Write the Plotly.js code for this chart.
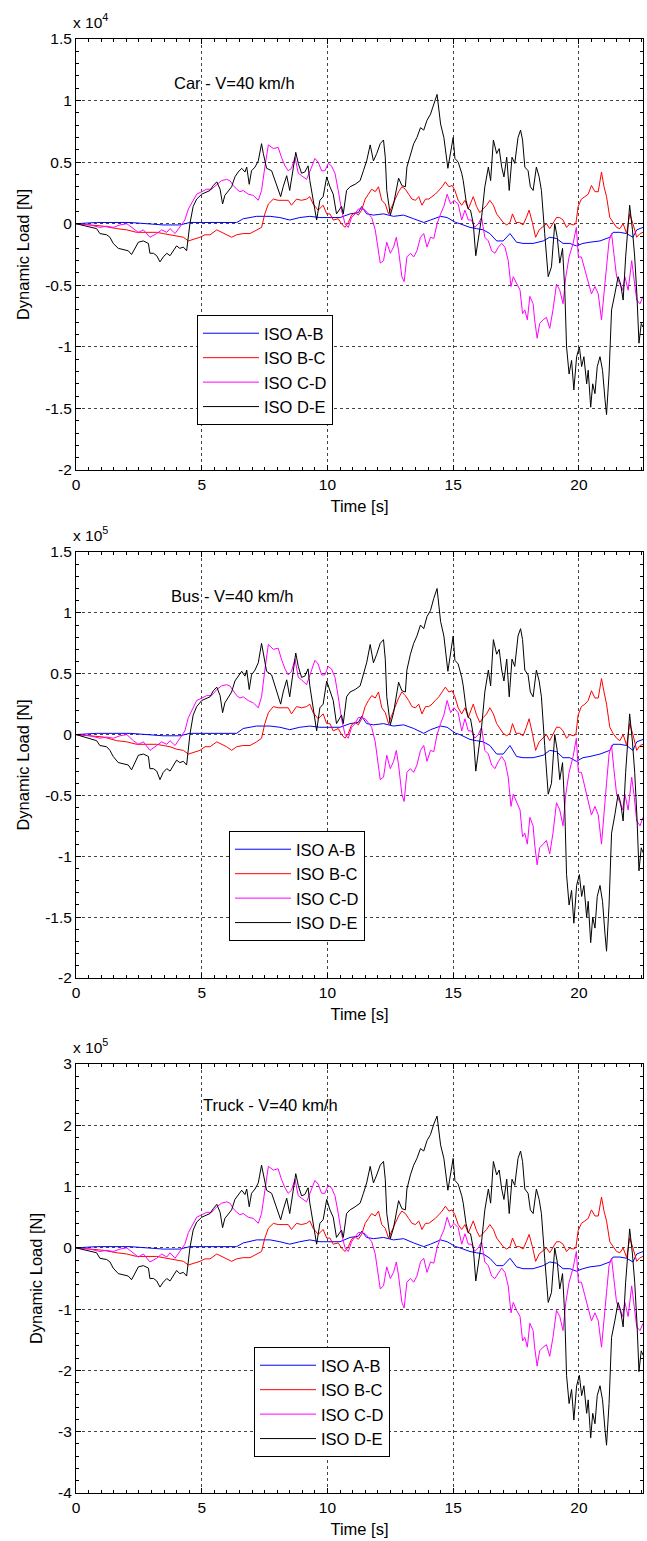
<!DOCTYPE html>
<html>
<head>
<meta charset="utf-8">
<script src="https://cdn.plot.ly/plotly-3.0.1.min.js"></script>
<style>html,body{margin:0;padding:0;background:#fff;}#chart{width:647px;height:1541px;}</style>
</head>
<body>
<div id="chart"></div>
<script>
// ---------------- DATA ----------------
const vehicleLabels = ['Car - V=40 km/h', 'Bus - V=40 km/h', 'Truck - V=40 km/h'];
const exponentLabels = ['x 10<sup>4</sup>', 'x 10<sup>5</sup>', 'x 10<sup>5</sup>'];
const seriesNames = ['ISO A-B', 'ISO B-C', 'ISO C-D', 'ISO D-E'];
const xAxisTitle = 'Time [s]';
const yAxisTitle = 'Dynamic Load [N]';
const xTickVals = [0, 5, 10, 15, 20];
const xTickText = ['0', '5', '10', '15', '20'];
const yTickValsCarBus = [-2, -1.5, -1, -0.5, 0, 0.5, 1, 1.5];
const yTickTextCarBus = ['-2', '-1.5', '-1', '-0.5', '0', '0.5', '1', '1.5'];
const yTickValsTruck = [-4, -3, -2, -1, 0, 1, 2, 3];
const yTickTextTruck = ['-4', '-3', '-2', '-1', '0', '1', '2', '3'];

// time stamps [s]
const tAB = [0,0.82,2.15,2.81,3.47,4.13,4.53,5.06,5.60,6.12,
  6.39,6.65,6.92,7.18,7.52,7.72,8.11,8.50,8.90,9.30,
  9.70,10.10,10.50,10.90,11.23,11.36,11.56,11.83,12.23,12.63,
  13.03,13.43,13.83,14.10,14.50,14.76,15.10,15.27,15.67,15.93,
  16.20,16.46,16.73,16.99,17.26,17.52,17.78,18.18,18.58,18.84,
  19.11,19.37,19.64,19.90,20.16,20.44,20.84,21.23,21.36,21.63,
  21.90,22.15,22.30,22.55];
const tBC = [0,0.56,1.09,1.62,2.02,2.41,2.81,3.21,3.47,3.74,
  4.00,4.27,4.47,4.66,4.93,5.13,5.33,5.60,5.79,5.99,
  6.19,6.39,6.65,6.92,7.18,7.38,7.51,7.65,7.85,8.04,
  8.24,8.44,8.57,8.77,8.97,9.17,9.30,9.43,9.63,9.83,
  9.97,10.10,10.23,10.43,10.56,10.70,10.83,10.96,11.10,11.23,
  11.36,11.50,11.63,11.76,11.90,12.03,12.16,12.30,12.43,12.56,
  12.70,12.83,12.96,13.10,13.23,13.36,13.50,13.63,13.76,13.90,
  14.03,14.16,14.29,14.43,14.56,14.69,14.83,14.96,15.07,15.20,
  15.34,15.47,15.60,15.80,15.93,16.06,16.20,16.33,16.46,16.60,
  16.73,16.86,16.99,17.13,17.26,17.36,17.50,17.65,17.78,17.91,
  18.02,18.15,18.28,18.42,18.55,18.71,18.84,18.97,19.11,19.24,
  19.37,19.51,19.64,19.77,19.88,19.97,20.10,20.24,20.37,20.50,
  20.64,20.77,20.90,21.00,21.10,21.23,21.36,21.50,21.63,21.76,
  21.90,22.02,22.15,22.30,22.43,22.55];
const tCD = [0,0.56,0.95,1.22,1.48,1.75,2.02,2.28,2.48,2.68,
  2.94,3.21,3.41,3.61,3.74,3.94,4.13,4.33,4.47,4.66,
  4.80,5.00,5.20,5.39,5.60,5.79,5.99,6.12,6.26,6.39,
  6.52,6.65,6.85,7.05,7.25,7.38,7.51,7.65,7.85,8.04,
  8.17,8.31,8.44,8.57,8.71,8.84,8.97,9.17,9.37,9.50,
  9.63,9.77,9.90,10.03,10.16,10.30,10.43,10.56,10.70,10.83,
  10.96,11.10,11.23,11.36,11.50,11.63,11.76,11.90,12.00,12.10,
  12.23,12.36,12.50,12.63,12.74,12.83,12.96,13.05,13.16,13.30,
  13.43,13.56,13.70,13.83,13.96,14.10,14.23,14.36,14.50,14.63,
  14.76,14.90,15.03,15.20,15.34,15.47,15.60,15.73,15.86,16.00,
  16.13,16.26,16.40,16.53,16.66,16.80,16.93,17.06,17.19,17.30,
  17.39,17.52,17.66,17.76,17.85,17.95,18.05,18.18,18.24,18.34,
  18.44,18.58,18.71,18.84,18.97,19.11,19.24,19.37,19.48,19.61,
  19.77,19.90,19.98,20.10,20.24,20.37,20.50,20.64,20.77,20.90,
  21.00,21.10,21.20,21.30,21.39,21.50,21.63,21.74,21.83,21.96,
  22.10,22.19,22.30,22.43,22.55];
const tDE = [0,0.56,0.82,0.95,1.22,1.35,1.48,1.68,1.88,2.08,
  2.21,2.35,2.48,2.68,2.88,2.94,3.08,3.21,3.34,3.47,
  3.61,3.74,3.87,4.00,4.13,4.27,4.40,4.47,4.53,4.66,
  4.80,5.00,5.20,5.33,5.46,5.60,5.73,5.83,5.92,6.06,
  6.19,6.32,6.45,6.59,6.72,6.79,6.89,6.98,7.12,7.25,
  7.38,7.45,7.58,7.78,7.91,8.04,8.14,8.24,8.38,8.50,
  8.64,8.74,8.84,8.97,9.10,9.23,9.30,9.43,9.57,9.70,
  9.83,9.97,10.10,10.23,10.36,10.56,10.63,10.76,10.90,11.10,
  11.30,11.43,11.56,11.70,11.83,11.96,12.10,12.23,12.30,12.36,
  12.50,12.63,12.83,12.96,13.10,13.16,13.30,13.43,13.56,13.70,
  13.83,13.96,14.10,14.23,14.36,14.50,14.63,14.79,14.90,15.00,
  15.07,15.20,15.34,15.40,15.51,15.60,15.69,15.80,15.90,16.00,
  16.13,16.26,16.40,16.49,16.60,16.73,16.83,16.93,17.02,17.13,
  17.23,17.34,17.45,17.58,17.68,17.76,17.85,17.98,18.07,18.18,
  18.31,18.42,18.51,18.64,18.78,18.91,19.04,19.14,19.24,19.35,
  19.44,19.51,19.61,19.71,19.80,19.91,20.02,20.11,20.20,20.31,
  20.37,20.47,20.55,20.64,20.73,20.84,20.94,21.04,21.10,21.20,
  21.30,21.43,21.56,21.66,21.76,21.86,21.95,22.02,22.13,22.22,
  22.31,22.39,22.48,22.55];

// Car (values in units of 1e4 N)
const carAB = [0,0.01,0.01,0.00,-0.01,-0.01,0.01,0.01,0.01,0.01,
  0.01,0.04,0.05,0.06,0.06,0.06,0.05,0.03,0.05,0.06,
  0.05,0.05,0.05,0.08,0.09,0.14,0.08,0.07,0.08,0.06,
  0.07,0.04,0.01,0.03,0.06,0.05,0.01,0.00,-0.03,-0.04,
  -0.05,-0.08,-0.14,-0.14,-0.08,-0.15,-0.16,-0.16,-0.14,-0.11,
  -0.12,-0.16,-0.16,-0.18,-0.16,-0.15,-0.14,-0.11,-0.07,-0.07,
  -0.08,-0.11,-0.05,-0.03];
const carBC = [0,-0.01,-0.02,-0.04,-0.05,-0.07,-0.07,-0.07,-0.08,-0.09,
  -0.10,-0.11,-0.14,-0.13,-0.11,-0.09,-0.09,-0.05,-0.07,-0.09,
  -0.11,-0.09,-0.08,-0.08,-0.05,-0.03,0.08,0.16,0.20,0.19,
  0.19,0.19,0.15,0.20,0.19,0.20,0.22,0.16,0.11,0.15,
  0.08,0.08,0.03,0.04,0.00,-0.03,0.01,0.07,0.09,0.07,
  0.11,0.20,0.24,0.28,0.26,0.30,0.19,0.16,0.08,0.14,
  0.19,0.26,0.30,0.28,0.24,0.20,0.19,0.22,0.15,0.20,
  0.20,0.22,0.24,0.27,0.30,0.34,0.30,0.31,0.27,0.19,
  0.15,0.19,0.12,0.22,0.14,0.09,0.12,0.15,0.19,0.15,
  0.08,0.04,0.01,-0.01,0.01,0.08,0.01,0.01,-0.01,0.05,
  0.11,0.01,-0.11,-0.05,-0.03,0.00,-0.04,0.00,0.05,0.05,
  0.03,-0.03,0.00,-0.01,0.00,0.14,0.20,0.22,0.24,0.31,
  0.26,0.26,0.42,0.30,0.22,0.05,0.01,-0.03,-0.04,0.00,
  -0.08,0.08,0.00,-0.11,-0.08,-0.07];
const carCD = [0,-0.01,-0.03,-0.02,-0.03,-0.01,0.00,-0.04,-0.07,-0.05,
  -0.11,-0.08,-0.05,-0.07,-0.04,-0.08,-0.03,0.03,0.12,0.19,
  0.24,0.26,0.28,0.28,0.32,0.35,0.36,0.35,0.31,0.28,
  0.26,0.27,0.24,0.23,0.19,0.27,0.46,0.64,0.61,0.62,
  0.54,0.47,0.43,0.45,0.54,0.41,0.39,0.36,0.46,0.53,
  0.50,0.43,0.43,0.49,0.47,0.41,0.27,0.11,0.00,-0.03,
  0.05,0.08,0.12,0.12,0.11,0.08,0.05,-0.05,-0.19,-0.32,
  -0.30,-0.15,-0.24,-0.19,-0.11,-0.22,-0.43,-0.47,-0.27,-0.24,
  -0.27,-0.22,-0.11,-0.08,-0.19,-0.11,-0.12,0.00,0.08,0.14,
  0.24,0.16,0.19,0.16,0.03,0.11,0.03,0.03,-0.03,0.00,
  0.05,-0.11,-0.14,-0.22,-0.24,-0.19,-0.16,-0.19,-0.30,-0.51,
  -0.43,-0.49,-0.54,-0.73,-0.70,-0.78,-0.59,-0.65,-0.78,-0.93,
  -0.81,-0.78,-0.76,-0.85,-0.70,-0.49,-0.54,-0.65,-0.43,-0.27,
  -0.16,-0.03,-0.27,-0.27,-0.38,-0.49,-0.57,-0.51,-0.57,-0.78,
  -0.54,-0.35,-0.14,-0.08,-0.24,-0.43,-0.49,-0.54,-0.43,-0.54,
  -0.30,-0.43,-0.62,-0.65,-0.59];
const carDE = [0,-0.03,-0.04,-0.08,-0.09,-0.11,-0.16,-0.20,-0.21,-0.22,
  -0.25,-0.20,-0.15,-0.14,-0.16,-0.24,-0.24,-0.26,-0.31,-0.27,
  -0.24,-0.26,-0.22,-0.18,-0.20,-0.19,-0.22,-0.11,0.00,0.14,
  0.20,0.24,0.26,0.27,0.31,0.34,0.28,0.16,0.23,0.27,
  0.30,0.38,0.42,0.45,0.42,0.46,0.32,0.43,0.46,0.51,
  0.65,0.57,0.45,0.43,0.35,0.27,0.22,0.30,0.39,0.27,
  0.46,0.58,0.49,0.41,0.42,0.47,0.35,0.19,0.03,0.19,
  0.22,0.38,0.30,0.24,0.08,0.14,0.08,0.27,0.30,0.32,
  0.35,0.43,0.51,0.64,0.51,0.57,0.65,0.68,0.54,0.27,
  0.07,0.16,0.37,0.31,0.30,0.46,0.57,0.65,0.70,0.78,
  0.76,0.84,0.89,0.97,1.05,0.81,0.70,0.45,0.59,0.70,
  0.53,0.50,0.41,0.35,0.19,0.12,0.11,0.00,-0.26,-0.14,
  0.05,0.30,0.46,0.35,0.68,0.57,0.61,0.46,0.38,0.54,
  0.27,0.54,0.49,0.70,0.76,0.68,0.46,0.43,0.30,0.27,
  0.46,0.38,0.27,-0.08,-0.43,-0.35,0.00,-0.11,-0.32,-0.20,
  -0.54,-1.00,-1.22,-1.11,-1.35,-1.08,-1.00,-1.16,-1.08,-1.30,
  -1.19,-1.49,-1.30,-1.38,-1.16,-1.08,-1.19,-1.43,-1.55,-1.22,
  -0.70,-0.57,-0.43,-0.49,-0.62,-0.27,0.00,0.15,-0.05,-0.27,
  -0.59,-0.97,-0.81,-0.84];

// Bus (values in units of 1e5 N)
const busAB = [0,0.01,0.01,0.00,-0.01,-0.01,0.01,0.01,0.01,0.01,
  0.01,0.05,0.06,0.07,0.07,0.07,0.06,0.04,0.06,0.07,
  0.06,0.06,0.06,0.09,0.10,0.15,0.09,0.08,0.09,0.07,
  0.08,0.05,0.01,0.04,0.07,0.06,0.01,0.00,-0.04,-0.05,
  -0.06,-0.09,-0.16,-0.16,-0.09,-0.18,-0.19,-0.19,-0.17,-0.13,
  -0.14,-0.19,-0.19,-0.22,-0.19,-0.18,-0.16,-0.13,-0.08,-0.08,
  -0.09,-0.13,-0.06,-0.04];
const busBC = [0,-0.01,-0.02,-0.05,-0.06,-0.08,-0.08,-0.08,-0.09,-0.10,
  -0.12,-0.13,-0.16,-0.15,-0.13,-0.10,-0.10,-0.06,-0.08,-0.10,
  -0.13,-0.10,-0.09,-0.09,-0.06,-0.03,0.09,0.18,0.23,0.22,
  0.22,0.22,0.17,0.23,0.22,0.23,0.25,0.18,0.13,0.17,
  0.09,0.09,0.03,0.05,0.00,-0.03,0.01,0.08,0.10,0.08,
  0.13,0.23,0.28,0.32,0.30,0.35,0.22,0.18,0.09,0.16,
  0.22,0.30,0.35,0.32,0.28,0.23,0.22,0.25,0.17,0.23,
  0.23,0.25,0.28,0.31,0.35,0.39,0.35,0.36,0.31,0.22,
  0.17,0.22,0.14,0.25,0.16,0.10,0.14,0.17,0.22,0.17,
  0.09,0.05,0.01,-0.01,0.01,0.09,0.01,0.01,-0.01,0.06,
  0.13,0.01,-0.13,-0.06,-0.03,0.00,-0.05,0.00,0.06,0.06,
  0.03,-0.03,0.00,-0.01,0.00,0.16,0.23,0.25,0.28,0.36,
  0.30,0.30,0.46,0.35,0.25,0.06,0.01,-0.03,-0.05,0.00,
  -0.09,0.09,0.00,-0.13,-0.09,-0.08];
const busCD = [0,-0.01,-0.03,-0.02,-0.03,-0.01,0.00,-0.05,-0.08,-0.06,
  -0.13,-0.09,-0.06,-0.08,-0.05,-0.09,-0.03,0.03,0.14,0.22,
  0.28,0.30,0.32,0.32,0.37,0.40,0.41,0.40,0.36,0.32,
  0.30,0.31,0.28,0.26,0.22,0.31,0.53,0.74,0.70,0.71,
  0.62,0.54,0.49,0.52,0.62,0.47,0.45,0.41,0.53,0.61,
  0.58,0.49,0.49,0.56,0.54,0.47,0.31,0.13,0.00,-0.03,
  0.06,0.09,0.14,0.14,0.13,0.09,0.06,-0.06,-0.22,-0.37,
  -0.35,-0.17,-0.28,-0.22,-0.13,-0.25,-0.49,-0.55,-0.31,-0.28,
  -0.31,-0.25,-0.13,-0.09,-0.22,-0.13,-0.14,0.00,0.09,0.16,
  0.28,0.18,0.22,0.18,0.03,0.13,0.03,0.03,-0.03,0.00,
  0.06,-0.13,-0.16,-0.25,-0.28,-0.22,-0.18,-0.22,-0.35,-0.59,
  -0.49,-0.56,-0.62,-0.84,-0.81,-0.90,-0.68,-0.75,-0.90,-1.07,
  -0.93,-0.90,-0.87,-0.98,-0.81,-0.56,-0.62,-0.75,-0.49,-0.31,
  -0.18,-0.03,-0.31,-0.31,-0.44,-0.56,-0.66,-0.59,-0.66,-0.90,
  -0.62,-0.40,-0.16,-0.09,-0.28,-0.49,-0.56,-0.62,-0.49,-0.62,
  -0.35,-0.49,-0.71,-0.75,-0.68];
const busDE = [0,-0.03,-0.05,-0.09,-0.10,-0.13,-0.18,-0.23,-0.24,-0.25,
  -0.29,-0.23,-0.17,-0.16,-0.18,-0.28,-0.28,-0.30,-0.37,-0.31,
  -0.28,-0.30,-0.25,-0.21,-0.23,-0.22,-0.25,-0.13,0.00,0.16,
  0.23,0.28,0.30,0.31,0.36,0.39,0.32,0.18,0.26,0.31,
  0.35,0.44,0.48,0.52,0.48,0.53,0.37,0.49,0.53,0.59,
  0.75,0.66,0.52,0.49,0.40,0.31,0.25,0.35,0.45,0.31,
  0.53,0.67,0.56,0.47,0.48,0.54,0.40,0.22,0.03,0.22,
  0.25,0.44,0.35,0.28,0.09,0.16,0.09,0.31,0.35,0.37,
  0.40,0.49,0.59,0.74,0.59,0.66,0.75,0.78,0.62,0.31,
  0.08,0.18,0.43,0.36,0.35,0.53,0.66,0.75,0.81,0.90,
  0.87,0.97,1.02,1.12,1.20,0.93,0.81,0.52,0.68,0.81,
  0.61,0.58,0.47,0.40,0.22,0.14,0.13,0.00,-0.30,-0.16,
  0.06,0.35,0.53,0.40,0.78,0.66,0.70,0.53,0.44,0.62,
  0.31,0.62,0.56,0.81,0.87,0.78,0.53,0.49,0.35,0.31,
  0.53,0.44,0.31,-0.09,-0.49,-0.40,0.00,-0.13,-0.37,-0.23,
  -0.62,-1.15,-1.40,-1.28,-1.55,-1.24,-1.15,-1.33,-1.24,-1.50,
  -1.37,-1.71,-1.50,-1.59,-1.33,-1.24,-1.37,-1.64,-1.78,-1.40,
  -0.81,-0.66,-0.49,-0.56,-0.71,-0.31,0.00,0.17,-0.06,-0.31,
  -0.68,-1.12,-0.93,-0.97];

// Truck (values in units of 1e5 N)
const truckAB = [0,0.02,0.02,0.00,-0.02,-0.02,0.02,0.02,0.02,0.02,
  0.02,0.08,0.10,0.13,0.13,0.13,0.10,0.06,0.10,0.13,
  0.10,0.10,0.10,0.17,0.19,0.27,0.17,0.15,0.17,0.13,
  0.15,0.08,0.02,0.06,0.13,0.10,0.02,0.00,-0.06,-0.08,
  -0.10,-0.17,-0.29,-0.29,-0.17,-0.31,-0.34,-0.34,-0.29,-0.23,
  -0.25,-0.34,-0.34,-0.38,-0.34,-0.31,-0.29,-0.23,-0.15,-0.15,
  -0.17,-0.23,-0.10,-0.06];
const truckBC = [0,-0.02,-0.04,-0.08,-0.10,-0.14,-0.14,-0.14,-0.16,-0.18,
  -0.20,-0.22,-0.28,-0.26,-0.22,-0.18,-0.18,-0.10,-0.14,-0.18,
  -0.22,-0.18,-0.16,-0.16,-0.10,-0.06,0.16,0.32,0.40,0.38,
  0.38,0.38,0.30,0.40,0.38,0.40,0.44,0.32,0.22,0.30,
  0.16,0.16,0.06,0.08,0.00,-0.06,0.02,0.14,0.18,0.14,
  0.22,0.40,0.48,0.56,0.52,0.60,0.38,0.32,0.16,0.28,
  0.38,0.52,0.60,0.56,0.48,0.40,0.38,0.44,0.30,0.40,
  0.40,0.44,0.48,0.54,0.60,0.68,0.60,0.62,0.54,0.38,
  0.30,0.38,0.24,0.44,0.28,0.18,0.24,0.30,0.38,0.30,
  0.16,0.08,0.02,-0.02,0.02,0.16,0.02,0.02,-0.02,0.10,
  0.22,0.02,-0.22,-0.10,-0.06,0.00,-0.08,0.00,0.10,0.10,
  0.06,-0.06,0.00,-0.02,0.00,0.28,0.40,0.44,0.48,0.62,
  0.52,0.52,0.83,0.60,0.44,0.10,0.02,-0.06,-0.08,0.00,
  -0.16,0.16,0.00,-0.22,-0.16,-0.14];
const truckCD = [0,-0.02,-0.06,-0.04,-0.06,-0.02,0.00,-0.08,-0.15,-0.10,
  -0.23,-0.17,-0.10,-0.15,-0.08,-0.17,-0.06,0.06,0.25,0.40,
  0.50,0.54,0.58,0.58,0.67,0.73,0.75,0.73,0.64,0.58,
  0.54,0.56,0.50,0.48,0.40,0.56,0.96,1.33,1.27,1.29,
  1.12,0.98,0.89,0.94,1.12,0.85,0.81,0.75,0.96,1.10,
  1.04,0.89,0.89,1.02,0.98,0.85,0.56,0.23,0.00,-0.06,
  0.10,0.17,0.25,0.25,0.23,0.17,0.10,-0.10,-0.40,-0.67,
  -0.62,-0.31,-0.50,-0.40,-0.23,-0.46,-0.89,-0.98,-0.56,-0.50,
  -0.56,-0.46,-0.23,-0.17,-0.40,-0.23,-0.25,0.00,0.17,0.29,
  0.50,0.33,0.40,0.33,0.06,0.23,0.06,0.06,-0.06,0.00,
  0.10,-0.23,-0.29,-0.46,-0.50,-0.40,-0.33,-0.40,-0.62,-1.06,
  -0.89,-1.02,-1.12,-1.52,-1.46,-1.62,-1.23,-1.35,-1.62,-1.93,
  -1.68,-1.62,-1.58,-1.77,-1.46,-1.02,-1.12,-1.35,-0.89,-0.56,
  -0.33,-0.06,-0.56,-0.56,-0.79,-1.02,-1.19,-1.06,-1.19,-1.62,
  -1.12,-0.73,-0.29,-0.17,-0.50,-0.89,-1.02,-1.12,-0.89,-1.12,
  -0.62,-0.89,-1.29,-1.35,-1.23];
const truckDE = [0,-0.06,-0.08,-0.17,-0.19,-0.23,-0.33,-0.42,-0.44,-0.46,
  -0.52,-0.42,-0.31,-0.29,-0.33,-0.50,-0.50,-0.54,-0.64,-0.56,
  -0.50,-0.54,-0.46,-0.37,-0.42,-0.40,-0.46,-0.23,0.00,0.29,
  0.42,0.50,0.54,0.56,0.64,0.71,0.58,0.33,0.48,0.56,
  0.62,0.79,0.87,0.94,0.87,0.96,0.67,0.89,0.96,1.06,
  1.35,1.19,0.94,0.89,0.73,0.56,0.46,0.62,0.81,0.56,
  0.96,1.21,1.02,0.85,0.87,0.98,0.73,0.40,0.06,0.40,
  0.46,0.79,0.62,0.50,0.17,0.29,0.17,0.56,0.62,0.67,
  0.73,0.89,1.06,1.33,1.06,1.19,1.35,1.41,1.12,0.56,
  0.15,0.33,0.77,0.64,0.62,0.96,1.19,1.35,1.46,1.62,
  1.58,1.75,1.85,2.02,2.15,1.68,1.46,0.94,1.23,1.46,
  1.10,1.04,0.85,0.73,0.40,0.25,0.23,0.00,-0.54,-0.29,
  0.10,0.62,0.96,0.73,1.41,1.19,1.27,0.96,0.79,1.12,
  0.56,1.12,1.02,1.46,1.58,1.41,0.96,0.89,0.62,0.56,
  0.96,0.79,0.56,-0.17,-0.89,-0.73,0.00,-0.23,-0.67,-0.42,
  -1.12,-2.08,-2.54,-2.31,-2.81,-2.25,-2.08,-2.41,-2.25,-2.70,
  -2.48,-3.10,-2.70,-2.87,-2.41,-2.25,-2.48,-2.97,-3.22,-2.54,
  -1.46,-1.19,-0.89,-1.02,-1.29,-0.56,0.00,0.31,-0.10,-0.56,
  -1.23,-2.02,-1.68,-1.75];

// ---------------- PLOT ----------------
const FONT = 'Liberation Sans, Arial, Helvetica, sans-serif';
const colors = ['#0000ff', '#ff0000', '#ff00ff', '#000000'];
const times = [tAB, tBC, tCD, tDE];
const values = [
  [carAB, carBC, carCD, carDE],
  [busAB, busBC, busCD, busDE],
  [truckAB, truckBC, truckCD, truckDE]
];

const traces = [];
for (let v = 0; v < 3; v++) {
  const suf = v === 0 ? '' : String(v + 1);
  for (let s = 0; s < 4; s++) {
    traces.push({
      type: 'scatter', mode: 'lines',
      x: times[s], y: values[v][s],
      name: seriesNames[s],
      xaxis: 'x' + suf, yaxis: 'y' + suf,
      legend: 'legend' + suf,
      line: {color: colors[s], width: 1},
      hoverinfo: 'skip'
    });
  }
}

const H = 1541, T = 39, B = 48;
const plotH = H - T - B;
function py(px) { return (H - B - px) / plotH; }

const domainsY = [[py(470), py(39)], [py(978), py(552)], [0, py(1064)]];

function xAxis(v) {
  return {
    domain: [0, 1], range: [0, 22.55], anchor: 'y' + (v === 0 ? '' : v + 1),
    tickmode: 'array', tickvals: xTickVals, ticktext: xTickText,
    ticks: 'inside', ticklen: 5, tickcolor: '#000', tickwidth: 1,
    showline: true, linecolor: '#000', linewidth: 1, mirror: 'ticks',
    showgrid: true, gridcolor: '#444', griddash: 'dot', gridwidth: 1,
    zeroline: false,
    minor: {tickmode: 'linear', tick0: 0, dtick: 0.5, ticks: 'inside', ticklen: 3, tickcolor: '#000', showgrid: false},
    tickfont: {family: FONT, size: 15.5, color: '#000'},
    title: {text: xAxisTitle, font: {family: FONT, size: 16.5, color: '#000'}, standoff: 8},
    automargin: false
  };
}
function yAxis(v) {
  const truck = v === 2;
  return {
    domain: domainsY[v], range: truck ? [-4, 3] : [-2, 1.5], anchor: 'x' + (v === 0 ? '' : v + 1),
    tickmode: 'array',
    tickvals: truck ? yTickValsTruck : yTickValsCarBus,
    ticktext: truck ? yTickTextTruck : yTickTextCarBus,
    ticks: 'inside', ticklen: 5, tickcolor: '#000', tickwidth: 1,
    showline: true, linecolor: '#000', linewidth: 1, mirror: 'ticks',
    showgrid: true, gridcolor: '#444', griddash: 'dot', gridwidth: 1,
    zeroline: false,
    minor: {tickmode: 'linear', tick0: 0, dtick: truck ? 0.2 : 0.1, ticks: 'inside', ticklen: 3, tickcolor: '#000', showgrid: false},
    tickfont: {family: FONT, size: 15.5, color: '#000'},
    title: {text: yAxisTitle, font: {family: FONT, size: 16.5, color: '#000'}, standoff: 11},
    automargin: false
  };
}

function legendCfg(x, y) {
  return {
    x: x, y: y, xanchor: 'left', yanchor: 'top',
    bgcolor: '#fff', bordercolor: '#000', borderwidth: 1,
    font: {family: FONT, size: 16.5, color: '#000'},
    itemwidth: 56, tracegroupgap: 0
  };
}

const annotations = [];
const labelPos = [[0.169, 0.898], [0.164, 0.897], [0.2205, 0.904]];
for (let v = 0; v < 3; v++) {
  const suf = v === 0 ? '' : String(v + 1);
  annotations.push({
    xref: 'x' + suf + ' domain', yref: 'y' + suf + ' domain',
    x: labelPos[v][0], y: labelPos[v][1], xanchor: 'left', yanchor: 'middle',
    text: vehicleLabels[v], showarrow: false,
    font: {family: FONT, size: 16.5, color: '#000'}
  });
  annotations.push({
    xref: 'x' + suf + ' domain', yref: 'y' + suf + ' domain',
    x: 0, y: 1, xanchor: 'left', yanchor: 'bottom', xshift: -5, yshift: 6,
    text: exponentLabels[v], showarrow: false,
    font: {family: FONT, size: 15.5, color: '#000'}
  });
}

const layout = {
  width: 647, height: H,
  margin: {l: 76, r: 4, t: T, b: B},
  paper_bgcolor: '#fff', plot_bgcolor: '#fff',
  font: {family: FONT, size: 15.5, color: '#000'},
  showlegend: true,
  xaxis: xAxis(0), yaxis: yAxis(0),
  xaxis2: xAxis(1), yaxis2: yAxis(1),
  xaxis3: xAxis(2), yaxis3: yAxis(2),
  legend: legendCfg((197 - 76) / 567, py(315)),
  legend2: legendCfg((229 - 76) / 567, py(831)),
  legend3: legendCfg((254 - 76) / 567, py(1347)),
  annotations: annotations
};

Plotly.newPlot('chart', traces, layout, {displayModeBar: false, staticPlot: true});
</script>
</body>
</html>
